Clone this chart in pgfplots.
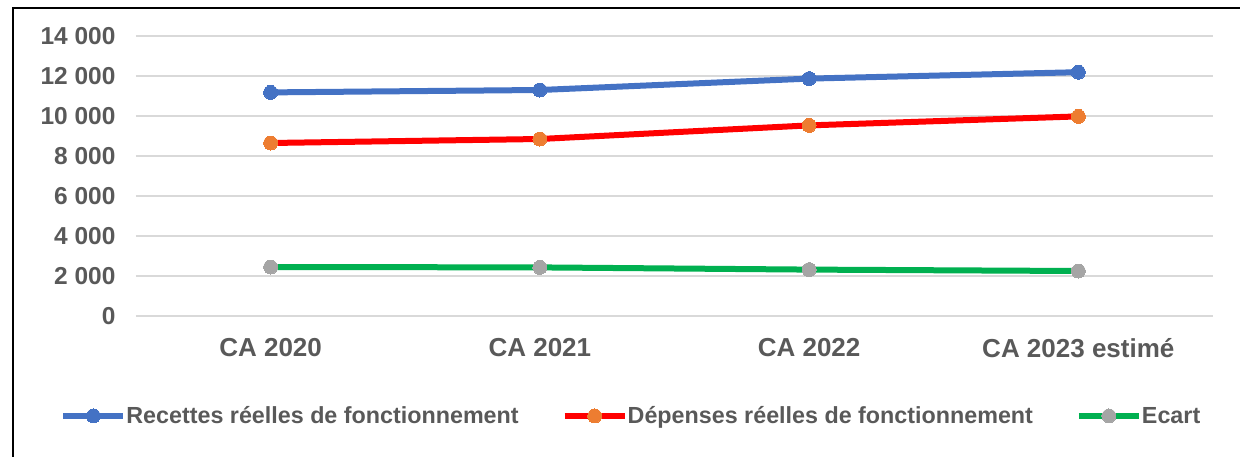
\documentclass[border=0pt]{standalone}
\usepackage{pgfplots}
\pgfplotsset{compat=1.18}
\usepackage{fontspec}
\setmainfont{Liberation Sans}
\definecolor{recblue}{HTML}{4472C4}
\definecolor{depred}{HTML}{FF0000}
\definecolor{deporange}{HTML}{ED7D31}
\definecolor{ecgreen}{HTML}{00B050}
\definecolor{ecgray}{HTML}{A5A5A5}
\definecolor{txtgray}{HTML}{595959}
\definecolor{gridgray}{HTML}{D9D9D9}
\begin{document}
\begin{tikzpicture}[x=1pt,y=1pt]
  \path[use as bounding box] (0,0) rectangle (1240,456);
  \draw[black,line width=2.5pt] (13,-2) -- (13,448) -- (1242,448);
  \begin{axis}[
    at={(136pt,140pt)}, anchor=south west,
    scale only axis,
    width=1077pt, height=280pt,
    xmin=0, xmax=4, ymin=0, ymax=14000,
    scaled y ticks=false,
    axis line style={draw=none},
    ymajorgrids,
    grid style={gridgray,line width=2pt},
    xtick={0.5,1.5,2.5,3.5},
    xticklabels={CA 2020,CA 2021,CA 2022,CA 2023 estimé},
    ytick={0,2000,4000,6000,8000,10000,12000,14000},
    yticklabels={0,2 000,4 000,6 000,8 000,10 000,12 000,14 000},
    xticklabel style={font=\fontsize{26}{30}\selectfont\bfseries, text=txtgray, yshift=-19pt},
    yticklabel style={font=\fontsize{24.5}{28}\selectfont\bfseries, text=txtgray, xshift=-17pt},
    major tick length=0pt,
    clip=false,
    legend columns=3,
    legend style={
      at={(0.459,-0.357)}, anchor=center, draw=none, fill=none,
      font=\fontsize{23.3}{27}\selectfont\bfseries, text=txtgray,
      /tikz/every even column/.append style={column sep=43pt},
      nodes={inner sep=0pt, anchor=west},
    },
    legend image code/.code={
      \draw[mark repeat=2,mark phase=2,#1] plot coordinates {(0pt,0pt) (30pt,0pt) (60pt,0pt)};
    },
  ]
    \addplot[recblue, line width=6pt, mark=*, mark size=7pt, mark options={fill=recblue, draw=recblue, line width=0pt}]
      coordinates {(0.5,11180) (1.5,11300) (2.5,11870) (3.5,12190)};
    \addlegendentry{Recettes réelles de fonctionnement}
    \addplot[depred, line width=6pt, mark=*, mark size=7pt, mark options={fill=deporange, draw=deporange, line width=0pt}]
      coordinates {(0.5,8650) (1.5,8850) (2.5,9530) (3.5,9980)};
    \addlegendentry{Dépenses réelles de fonctionnement}
    \addplot[ecgreen, line width=6pt, mark=*, mark size=7pt, mark options={fill=ecgray, draw=ecgray, line width=0pt}]
      coordinates {(0.5,2450) (1.5,2430) (2.5,2320) (3.5,2250)};
    \addlegendentry{Ecart}
  \end{axis}
\end{tikzpicture}
\end{document}
